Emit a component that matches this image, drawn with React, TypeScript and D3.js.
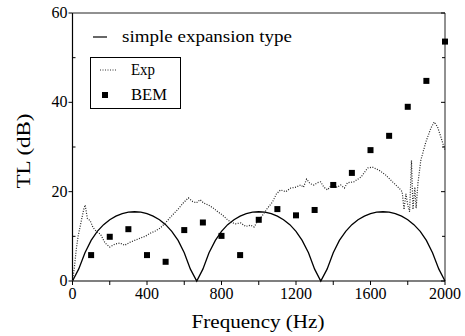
import React from "react";
import * as d3 from "d3";

const simpleFreq = [0, 33, 67, 100, 133, 167, 200, 233, 267, 300, 333, 367, 400, 433, 467, 500, 533, 567, 600, 633, 667, 700, 733, 767, 800, 833, 867, 900, 933, 967, 1000, 1033, 1067, 1100, 1133, 1167, 1200, 1233, 1267, 1300, 1333, 1367, 1400, 1433, 1467, 1500, 1533, 1567, 1600, 1633, 1667, 1700, 1733, 1767, 1800, 1833, 1867, 1900, 1933, 1967, 2000];
const simpleTL = [
  0, 2.66, 6.33, 9.09, 11.11, 12.61, 13.73, 14.53, 15.08, 15.4, 15.5, 15.4, 15.08, 14.53, 13.73, 12.61, 11.11, 9.09, 6.33, 2.66,
  0, 2.66, 6.33, 9.09, 11.11, 12.61, 13.73, 14.53, 15.08, 15.4, 15.5, 15.4, 15.08, 14.53, 13.73, 12.61, 11.11, 9.09, 6.33, 2.66,
  0, 2.66, 6.33, 9.09, 11.11, 12.61, 13.73, 14.53, 15.08, 15.4, 15.5, 15.4, 15.08, 14.53, 13.73, 12.61, 11.11, 9.09, 6.33, 2.66, 0,
];

const expFreq = [0, 10, 20, 30, 40, 50, 60, 68, 80, 95, 110, 130, 150, 175, 200, 230, 255, 280, 310, 340, 364, 390, 418, 445, 472, 499, 526, 563, 595, 622, 645, 665, 685, 703, 730, 757, 780, 804, 830, 849, 875, 903, 930, 956, 975, 999, 1010, 1030, 1047, 1074, 1095, 1117, 1145, 1171, 1200, 1225, 1240, 1257, 1275, 1295, 1315, 1332, 1350, 1369, 1385, 1403, 1420, 1440, 1460, 1476, 1510, 1550, 1585, 1610, 1646, 1682, 1718, 1753, 1770, 1780, 1790, 1800, 1810, 1820, 1828, 1838, 1845, 1855, 1870, 1897, 1924, 1942, 1960, 1978, 1996, 2000];
const expTL = [0, 3, 7, 10, 12, 14, 16, 17, 14, 13.5, 12, 11, 10.5, 8.5, 7.6, 8.3, 8.5, 8.0, 8.7, 9.2, 9.6, 10.0, 10.7, 11.2, 11.9, 13.0, 14.3, 15.9, 17.5, 18.6, 17.8, 17.5, 18.2, 17.5, 17.0, 16.3, 15.5, 14.8, 13.8, 13.2, 12.8, 13.0, 12.2, 12.5, 12.1, 13.7, 14.1, 15.3, 16.3, 17.7, 19.5, 20.4, 20.0, 20.8, 21.0, 21.5, 21.0, 22.8, 21.8, 21.5, 22.0, 22.2, 21.0, 20.4, 21.2, 21.5, 21.0, 21.5, 20.8, 22.0, 22.2, 23.3, 25.3, 25.5, 24.8, 23.7, 22.2, 20.8, 20.0, 16.0, 19.5, 17.0, 15.5, 27.0, 16.0, 21.0, 16.3, 22.0, 27.0, 31.1, 34.2, 35.6, 34.5, 32.2, 29.8, 29.3];

const bemFreq = [100, 200, 300, 400, 500, 600, 700, 800, 900, 1000, 1100, 1200, 1300, 1400, 1500, 1600, 1700, 1800, 1900, 2000];
const bemTL = [5.8, 9.9, 11.6, 5.8, 4.3, 11.4, 13.1, 10.1, 5.8, 13.7, 16.1, 14.7, 15.9, 21.5, 24.2, 29.3, 32.5, 39.0, 44.8, 53.6];

const xTickLabels = [0, 400, 800, 1200, 1600, 2000];
const yTickLabels = [0, 20, 40, 60];

const FONT = "Liberation Serif";

export default function App() {
  const W = 465, H = 336;
  const x = d3.scaleLinear().domain([0, 2000]).range([72.5, 445]);
  const y = d3.scaleLinear().domain([0, 60]).range([281, 13]);

  const simpleLine = d3.line<number>().x((_, i) => x(simpleFreq[i])).y((d) => y(d));
  const expLine = d3.line<number>().x((_, i) => x(expFreq[i])).y((d) => y(d));

  const xMinor = d3.range(0, 2001, 200);
  const yMinor = d3.range(10, 60, 20);

  return (
    <svg width={W} height={H} style={{ position: "absolute", left: 0, top: 0, background: "#fff" }}>
      {/* frame */}
      <line x1={x(0)} x2={x(0)} y1={y(0)} y2={y(60)} stroke="#000" strokeWidth={1.2} />
      <line x1={x(0)} x2={x(2000)} y1={y(0)} y2={y(0)} stroke="#000" strokeWidth={1.2} />
      <line x1={x(0)} x2={x(2000)} y1={y(60)} y2={y(60)} stroke="#222" strokeWidth={1} />
      <line x1={x(2000)} x2={x(2000)} y1={y(0)} y2={y(60)} stroke="#222" strokeWidth={1} />

      {/* x ticks */}
      {xMinor.map((t) => (
        <line key={"xt" + t} x1={x(t)} x2={x(t)} y1={y(0)} y2={y(0) + 4} stroke="#000" strokeWidth={1} />
      ))}
      {xTickLabels.map((t) => (
        <text key={"xl" + t} x={x(t)} y={299} textAnchor="middle" fontFamily={FONT} fontSize={16} fill="#000">
          {t}
        </text>
      ))}

      {/* y ticks */}
      {yTickLabels.map((t) => (
        <g key={"yt" + t}>
          <line x1={x(0) - 4} x2={x(0)} y1={y(t)} y2={y(t)} stroke="#000" strokeWidth={1} />
          <line x1={x(2000) - 4} x2={x(2000)} y1={y(t)} y2={y(t)} stroke="#000" strokeWidth={1} />
          <text x={x(0) - 5} y={y(t) + 5} textAnchor="end" fontFamily={FONT} fontSize={16} fill="#000">
            {t}
          </text>
        </g>
      ))}
      {yMinor.map((t) => (
        <g key={"ym" + t}>
          <line x1={x(0)} x2={x(0) + 3} y1={y(t)} y2={y(t)} stroke="#000" strokeWidth={1} />
          <line x1={x(2000) - 3} x2={x(2000)} y1={y(t)} y2={y(t)} stroke="#000" strokeWidth={1} />
        </g>
      ))}

      {/* axis titles */}
      <text x={258} y={328} textAnchor="middle" fontFamily={FONT} fontSize={18} fill="#000" textLength={133} lengthAdjust="spacingAndGlyphs">
        Frequency (Hz)
      </text>
      <text transform="translate(30,151) rotate(-90)" textAnchor="middle" fontFamily={FONT} fontSize={18} fill="#000" textLength={75} lengthAdjust="spacingAndGlyphs">
        TL (dB)
      </text>

      {/* data */}
      <path d={simpleLine(simpleTL) || ""} fill="none" stroke="#000" strokeWidth={1.3} />
      <path d={expLine(expTL) || ""} fill="none" stroke="#222" strokeWidth={1.2} strokeDasharray="1 1.5" />
      {bemTL.map((v, i) => (
        <rect key={"b" + i} x={x(bemFreq[i]) - 3} y={y(v) - 3} width={6} height={6} fill="#000" />
      ))}

      {/* legend */}
      <line x1={93} x2={107} y1={37} y2={37} stroke="#000" strokeWidth={1.2} />
      <text x={122} y={42} fontFamily={FONT} fontSize={16} fill="#000" textLength={170} lengthAdjust="spacingAndGlyphs">
        simple expansion type
      </text>
      <rect x={90.5} y={57.5} width={90} height={51} fill="none" stroke="#000" strokeWidth={1} />
      <line x1={100} x2={117} y1={70} y2={70} stroke="#333" strokeWidth={1} strokeDasharray="1 1.5" />
      <text x={131} y={75} fontFamily={FONT} fontSize={16} fill="#000" textLength={24} lengthAdjust="spacingAndGlyphs">
        Exp
      </text>
      <rect x={102} y={92} width={6} height={6} fill="#000" />
      <text x={131} y={100} fontFamily={FONT} fontSize={16} fill="#000" textLength={36} lengthAdjust="spacingAndGlyphs">
        BEM
      </text>
    </svg>
  );
}
